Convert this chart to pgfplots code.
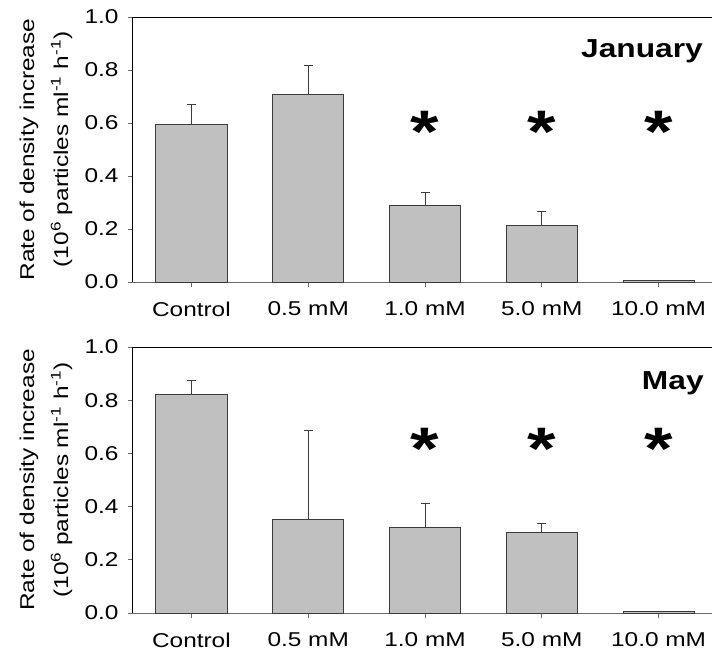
\documentclass[border=0pt]{standalone}
\usepackage{fontspec}
\setmainfont{Liberation Sans}[FakeStretch=1.22]
\usepackage{pgfplots}
\pgfplotsset{compat=1.18}
\usepackage{pgfplotstable}

\definecolor{barfill}{RGB}{192,192,192}
\definecolor{baredge}{RGB}{60,60,60}
\definecolor{axisgray}{RGB}{105,105,105}

\pgfplotstableread{
x y e
0 0.596 0.076
1 0.709 0.107
2 0.289 0.051
3 0.215 0.051
4 0.006 0.000
}\jan

\pgfplotstableread{
x y e
0 0.823 0.050
1 0.351 0.335
2 0.323 0.089
3 0.303 0.032
4 0.005 0.000
}\may

\pgfplotsset{panel/.style={
  scale only axis, width=579pt,
  xmin=-0.5, xmax=4.457, ymin=0, ymax=1,
  clip=false,
  axis x line*=bottom, axis y line*=left,
  x axis line style={axisgray, line width=1pt, -},
  y axis line style={black, line width=1pt, -},
  xtick={0,1,2,3,4},
  xticklabels={Control,0.5 mM,1.0 mM,5.0 mM,10.0 mM},
  ytick={0,0.2,0.4,0.6,0.8,1.0},
  yticklabel={\pgfmathprintnumber[fixed,fixed zerofill,precision=1,assume math mode=true]{\tick}},
  tick align=outside, major tick length=5pt,
  tick style={axisgray, line width=0.8pt},
  tick label style={font=\fontsize{20}{24}\selectfont},
  xticklabel style={yshift=-11pt},
  yticklabel style={xshift=-6pt},
  ylabel={Rate of density increase\\[10pt](10\textsuperscript{6} particles ml\textsuperscript{-1} h\textsuperscript{-1})},
  ylabel style={align=center, font=\fontsize{20}{24}\selectfont, at={([xshift=-87pt]rel axis cs:0,0.5)}, anchor=center},
}}

\begin{document}
\begin{tikzpicture}[x=1pt,y=1pt]
\path[use as bounding box] (0,0) rectangle (713,-659);

\begin{axis}[panel, height=265pt, at={(133pt,-282pt)}, anchor=south west]
\addplot[ybar, bar width=0.61, fill=barfill, draw=baredge, line width=0.8pt,
  error bars/.cd, y dir=plus, y explicit,
  error bar style={baredge, line width=0.8pt},
  error mark options={rotate=90, baredge, mark size=4.5pt, line width=0.8pt}]
  table[x=x, y=y, y error=e]{\jan};
\draw[black, line width=1pt] (rel axis cs:0,1) -- (rel axis cs:1,1);
\node[anchor=base, font=\fontsize{60}{64}\selectfont\bfseries] at (axis cs:2,0.49) {*};
\node[anchor=base, font=\fontsize{60}{64}\selectfont\bfseries] at (axis cs:3,0.49) {*};
\node[anchor=base, font=\fontsize{60}{64}\selectfont\bfseries] at (axis cs:4,0.49) {*};
\node[anchor=base east, font=\fontsize{26}{30}\selectfont\bfseries, inner sep=0pt] at (rel axis cs:0.9845,0.846) {January};
\end{axis}

\begin{axis}[panel, height=266pt, at={(133pt,-613pt)}, anchor=south west]
\addplot[ybar, bar width=0.61, fill=barfill, draw=baredge, line width=0.8pt,
  error bars/.cd, y dir=plus, y explicit,
  error bar style={baredge, line width=0.8pt},
  error mark options={rotate=90, baredge, mark size=4.5pt, line width=0.8pt}]
  table[x=x, y=y, y error=e]{\may};
\draw[black, line width=1pt] (rel axis cs:0,1) -- (rel axis cs:1,1);
\node[anchor=base, font=\fontsize{60}{64}\selectfont\bfseries] at (axis cs:2,0.54) {*};
\node[anchor=base, font=\fontsize{60}{64}\selectfont\bfseries] at (axis cs:3,0.54) {*};
\node[anchor=base, font=\fontsize{60}{64}\selectfont\bfseries] at (axis cs:4,0.54) {*};
\node[anchor=base east, font=\fontsize{26}{30}\selectfont\bfseries, inner sep=0pt] at (rel axis cs:0.986,0.84) {May};
\end{axis}
\end{tikzpicture}
\end{document}
